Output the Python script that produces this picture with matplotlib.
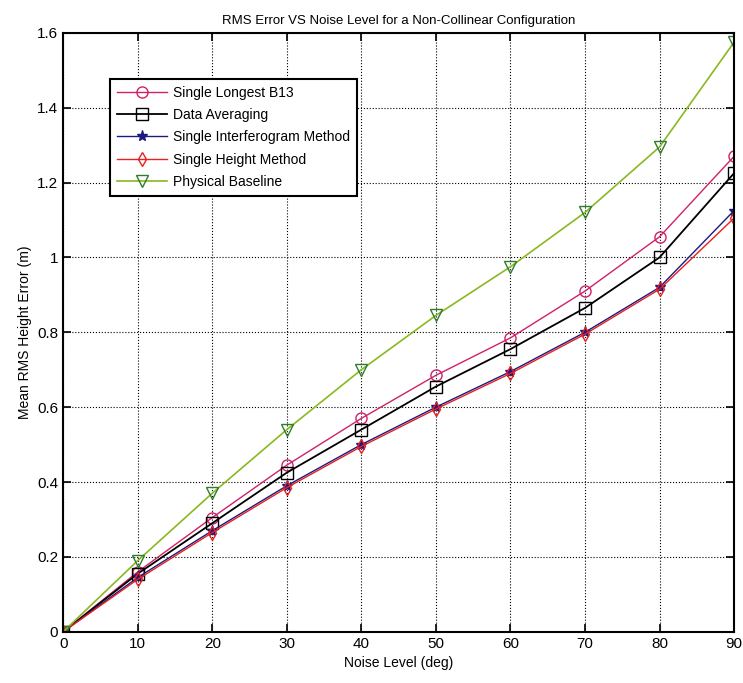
import matplotlib
matplotlib.use("Agg")
import matplotlib.pyplot as plt

plt.rcParams['font.family'] = ['Liberation Sans', 'DejaVu Sans']

noise = [0, 10, 20, 30, 40, 50, 60, 70, 80, 90]

longest_b13 = [0, 0.160, 0.305, 0.445, 0.570, 0.685, 0.785, 0.910, 1.055, 1.270]
data_avg = [0, 0.155, 0.290, 0.425, 0.540, 0.655, 0.755, 0.865, 1.000, 1.225]
single_ifg = [0, 0.145, 0.270, 0.390, 0.500, 0.600, 0.695, 0.800, 0.920, 1.125]
single_height = [0, 0.140, 0.265, 0.385, 0.495, 0.595, 0.690, 0.795, 0.915, 1.105]
physical = [0, 0.190, 0.370, 0.540, 0.700, 0.845, 0.975, 1.120, 1.295, 1.575]

fig = plt.figure(figsize=(7.43, 6.83), dpi=100)
ax = fig.add_axes([0.085, 0.075, 0.903, 0.877])

ax.plot(noise, longest_b13, color='#d0206a', marker='o', mfc='none', ms=8, lw=1.0, label='Single Longest B13')
ax.plot(noise, data_avg, color='black', marker='s', mfc='none', ms=8, lw=1.3, label='Data Averaging')
ax.plot(noise, single_ifg, color='#1a1a80', marker='*', ms=8, lw=1.0, label='Single Interferogram Method')
ax.plot(noise, single_height, color='#e82020', marker='d', mfc='none', ms=7, lw=1.0, label='Single Height Method')
ax.plot(noise, physical, color='#8ab820', marker='v', mfc='none', mec='#2e7d2e', ms=9, lw=1.2, label='Physical Baseline')

ax.set_xlim(0, 90)
ax.set_ylim(0, 1.6)
ax.set_xticks(noise)
ax.set_yticks([0, 0.2, 0.4, 0.6, 0.8, 1, 1.2, 1.4, 1.6])
ax.set_yticklabels(['0', '0.2', '0.4', '0.6', '0.8', '1', '1.2', '1.4', '1.6'])
ax.tick_params(direction='in', labelsize=11, length=6, width=1.2, top=True, right=True)
ax.grid(True, linestyle=':', color='black', linewidth=0.8)
for s in ax.spines.values():
    s.set_linewidth(1.5)

ax.set_title('RMS Error VS Noise Level for a Non-Collinear Configuration', fontsize=9.5)
ax.set_xlabel('Noise Level (deg)', fontsize=10)
ax.set_ylabel('Mean RMS Height Error (m)', fontsize=10)

leg = ax.legend(loc='upper left', bbox_to_anchor=(0.06, 0.935), fontsize=10,
                fancybox=False, edgecolor='black', framealpha=1,
                handlelength=3.6, handletextpad=0.4, borderpad=0.5, labelspacing=0.6)
leg.get_frame().set_linewidth(1.5)

fig.savefig('out.png', dpi=100)
